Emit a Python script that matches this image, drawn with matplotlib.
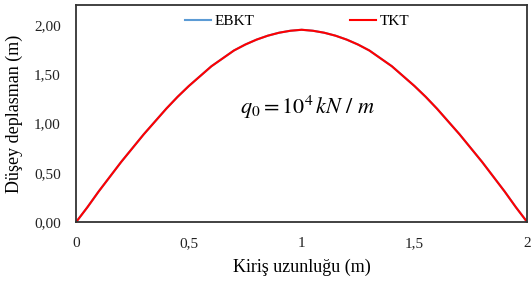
import matplotlib.pyplot as plt
import numpy as np

plt.rcParams['font.family'] = ['Liberation Serif', 'DejaVu Serif']
plt.rcParams['mathtext.fontset'] = 'stix'

# beam length positions (m) and vertical displacement (m)
x = [0, 0.05, 0.1, 0.15, 0.2, 0.25, 0.3, 0.35, 0.4, 0.45, 0.5,
     0.55, 0.6, 0.65, 0.7, 0.75, 0.8, 0.85, 0.9, 0.95, 1.0,
     1.05, 1.1, 1.15, 1.2, 1.25, 1.3, 1.35, 1.4, 1.45, 1.5,
     1.55, 1.6, 1.65, 1.7, 1.75, 1.8, 1.85, 1.9, 1.95, 2.0]
ebkt = [0, 0.15, 0.31, 0.46, 0.61, 0.75, 0.89, 1.02, 1.15, 1.27, 1.38,
        1.48, 1.58, 1.66, 1.74, 1.80, 1.85, 1.89, 1.92, 1.94, 1.95,
        1.94, 1.92, 1.89, 1.85, 1.80, 1.74, 1.66, 1.58, 1.48, 1.38,
        1.27, 1.15, 1.02, 0.89, 0.75, 0.61, 0.46, 0.31, 0.15, 0]
tkt = [0, 0.15, 0.31, 0.46, 0.61, 0.75, 0.89, 1.02, 1.15, 1.27, 1.38,
       1.48, 1.58, 1.66, 1.74, 1.80, 1.85, 1.89, 1.92, 1.94, 1.95,
       1.94, 1.92, 1.89, 1.85, 1.80, 1.74, 1.66, 1.58, 1.48, 1.38,
       1.27, 1.15, 1.02, 0.89, 0.75, 0.61, 0.46, 0.31, 0.15, 0]

xticks = [0, 0.5, 1, 1.5, 2]
xtick_labels = ['0', '0,5', '1', '1,5', '2']
yticks = [0, 0.5, 1.0, 1.5, 2.0]
ytick_labels = ['0,00', '0,50', '1,00', '1,50', '2,00']

fig = plt.figure(figsize=(5.32, 2.84), dpi=100)
ax = fig.add_axes([0.143, 0.218, 0.848, 0.764])

ax.plot(x, ebkt, color='#5B9BD5', lw=1.5, label='EBKT')
ax.plot(x, tkt, color='#FF0000', lw=1.5, label='TKT')

ax.set_xlim(0, 2)
ax.set_ylim(0, 2.2)
ax.set_xticks(xticks)
ax.set_xticklabels(xtick_labels)
ax.set_yticks(yticks)
ax.set_yticklabels(ytick_labels)
ax.tick_params(length=0, labelsize=11, pad=11, colors='#222222')

for s in ax.spines.values():
    s.set_color('#333333')
    s.set_linewidth(1.3)

ax.set_xlabel('Kiriş uzunluğu (m)', fontsize=13, labelpad=6)
ax.set_ylabel('Düşey deplasman (m)', fontsize=13, labelpad=8)

# load annotation
ax.text(0.725, 1.16, r'$q_0 = 10^4\,kN\ /\ m$', fontsize=16, ha='left', va='center')

ax.legend(loc='center', bbox_to_anchor=(0.49, 0.925), ncol=2, frameon=False,
          fontsize=11, handlelength=1.7, handletextpad=0.2, columnspacing=6.3)

fig.savefig('out.png', dpi=100)
